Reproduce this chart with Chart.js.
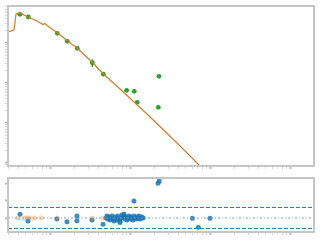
<!DOCTYPE html>
<html>
<head>
<meta charset="UTF-8">
<script src="https://cdn.jsdelivr.net/npm/chart.js"></script>
<style>
  html, body { margin: 0; padding: 0; background: #fff; }
  #wrap { position: relative; width: 320px; height: 240px; }
  canvas { position: absolute; left: 0; }
  #fit { top: 0; }
  #res { top: 172px; }
</style>
</head>
<body>
<div id="wrap">
  <canvas id="fit" width="320" height="172"></canvas>
  <canvas id="res" width="320" height="68"></canvas>
</div>
<script>
// model curve (log-log)
const modelX = [0.2985, 0.355, 0.376, 0.422, 0.531, 0.688, 0.818, 0.866, 0.917, 1.223, 1.631, 2.175, 3.35, 4.60, 8.91, 16.8, 36.5, 75, 100];
const modelY = [1884, 2113, 5309, 5623, 4467, 3548, 2900, 3073, 2738, 1830, 1155, 750, 335, 173, 51.6, 15.8, 3.55, 0.841, 0.473];

// measured points with error bars
const obsX = [0.422, 0.535, 1.234, 1.645, 2.194, 3.38, 4.64, 9.07, 11.3, 12.3, 23.0, 22.6];
const obsY = [5217, 4467, 1748, 1103, 737, 322, 166, 65.7, 62.0, 32.9, 147, 24.7];
const obsLo = [5100, 4380, 1710, 1080, 720, 251, 162, 64.2, 60.6, 32.1, 144, 24.1];
const obsHi = [5330, 4560, 1790, 1130, 755, 387, 170, 67.2, 63.4, 33.7, 150, 25.3];

// residuals
const resBlueX = [0.422, 0.531, 1.22, 1.63, 2.17, 2.17, 3.35, 4.6,
  5.012, 5.158, 5.309, 5.464, 5.623, 5.788, 5.957, 6.131, 6.310, 6.494, 6.683, 6.879, 7.079, 7.286,
  7.499, 7.499, 7.718, 7.943, 8.175, 8.414, 8.414, 8.660, 8.913, 9.173, 9.441, 9.716, 10, 10.29, 10.59,
  10.90, 11.22, 11.55, 11.89, 12.23, 12.59, 12.96, 13.34, 13.73, 14.13, 14.54,
  11.2, 22.4, 23.2, 60.1, 71.4, 100];
const resBlueY = [0.21, -0.17, -0.05, -0.21, 0.11, -0.15, -0.11, -0.36,
  0, 0.11, -0.06, 0.06, -0.11, 0, 0.11, -0.06, -0.17, 0.06, 0, -0.11, 0.11, -0.06,
  -0.26, -0.17, 0, 0.17, 0.06, 0.23, 0.11, -0.06, 0.06, -0.11, 0, 0.11, -0.06, 0.06, 0,
  -0.11, 0.11, 0, -0.06, 0.06, 0, 0.11, -0.06, 0, 0.06, 0,
  0.97, 1.98, 2.11, -0.02, -0.53, -0.02];
const resOrangeX = [0.401, 0.487, 0.526, 0.562, 0.637, 0.772, 1.23, 3.38, 4.64];
const resOrangeY = [0, 0, 0, 0, 0, 0, 0, 0, 0];
const resCenter = 0;
const resBand = [0.6, -0.6];

const xMin = 0.2985, xMax = 1995;
const yMin = 0.841, yMax = 8414;
const rMin = -0.8, rMax = 2.286;

function pts(xs, ys) { return xs.map((x, i) => ({ x: x, y: ys[i] })); }

function logTicks(min, max) {
  const out = [];
  for (let e = Math.floor(Math.log10(min)); e <= Math.ceil(Math.log10(max)); e++) {
    for (let m = 1; m <= 9; m++) {
      const v = m * Math.pow(10, e);
      if (v >= min && v <= max) out.push({ value: v, major: m === 1 });
    }
  }
  return out;
}

const frame = {
  id: 'frame',
  afterDraw(chart) {
    const a = chart.chartArea, c = chart.ctx;
    c.save();
    c.strokeStyle = '#c6c6c6';
    c.lineWidth = 2;
    c.strokeRect(a.left, a.top, a.right - a.left, a.bottom - a.top);
    c.restore();
  }
};

function axisGrid() {
  return {
    display: true,
    drawOnChartArea: false,
    drawTicks: true,
    tickLength: 3,
    tickColor: ctx => (ctx.tick && ctx.tick.major) ? '#bcbcbc' : '#dadada',
    tickWidth: ctx => (ctx.tick && ctx.tick.major) ? 2 : 1
  };
}

function logAxis(min, max) {
  return {
    type: 'logarithmic', min: min, max: max,
    ticks: { display: false },
    border: { display: false },
    grid: axisGrid(),
    afterBuildTicks: s => { s.ticks = logTicks(min, max); }
  };
}

// error bars as short vertical segments
const errData = [];
obsX.forEach((x, i) => {
  errData.push({ x: x, y: obsLo[i] }, { x: x, y: obsHi[i] }, { x: x, y: null });
});

new Chart(document.getElementById('fit'), {
  type: 'scatter',
  data: {
    datasets: [
      { type: 'line', data: pts(modelX, modelY), borderColor: '#d8792c', borderWidth: 1.2,
        pointRadius: 0, tension: 0, fill: false },
      { type: 'line', data: errData, borderColor: '#2ca02c', borderWidth: 1.5,
        pointRadius: 0, spanGaps: false, fill: false },
      { data: pts(obsX, obsY), backgroundColor: '#2ca02c', borderWidth: 0, pointRadius: 2.4 }
    ]
  },
  options: {
    responsive: false, animation: false, events: [],
    layout: { padding: { left: 5, right: 6, top: 6, bottom: 3 } },
    plugins: { legend: { display: false }, tooltip: { enabled: false } },
    scales: {
      x: logAxis(xMin, xMax),
      y: logAxis(yMin, yMax)
    }
  },
  plugins: [frame]
});

new Chart(document.getElementById('res'), {
  type: 'scatter',
  data: {
    datasets: [
      { type: 'line', data: pts([xMin, xMax], [resBand[0], resBand[0]]), borderColor: '#2a7bb8',
        borderWidth: 1, borderDash: [4, 2], pointRadius: 0 },
      { type: 'line', data: pts([xMin, xMax], [resBand[1], resBand[1]]), borderColor: '#2a7bb8',
        borderWidth: 1, borderDash: [4, 2], pointRadius: 0 },
      { type: 'line', data: pts([xMin, xMax], [resCenter, resCenter]), borderColor: '#6aa6d4',
        borderWidth: 1, borderDash: [2, 2, 1, 2], pointRadius: 0 },
      { data: pts(resOrangeX, resOrangeY), backgroundColor: 'rgba(255,127,14,0.35)', borderWidth: 0, pointRadius: 2.5 },
      { data: pts(resBlueX, resBlueY), backgroundColor: 'rgba(31,119,180,0.85)', borderWidth: 0, pointRadius: 2.5 }
    ]
  },
  options: {
    responsive: false, animation: false, events: [],
    layout: { padding: { left: 5, right: 6, top: 6, bottom: 5 } },
    plugins: { legend: { display: false }, tooltip: { enabled: false } },
    scales: {
      x: logAxis(xMin, xMax),
      y: {
        type: 'linear', min: rMin, max: rMax,
        ticks: { display: false },
        border: { display: false },
        grid: axisGrid(),
        afterBuildTicks: s => { s.ticks = [{ value: 0, major: true }, { value: 1, major: true }, { value: 2, major: true }]; }
      }
    }
  },
  plugins: [frame]
});
</script>
</body>
</html>
